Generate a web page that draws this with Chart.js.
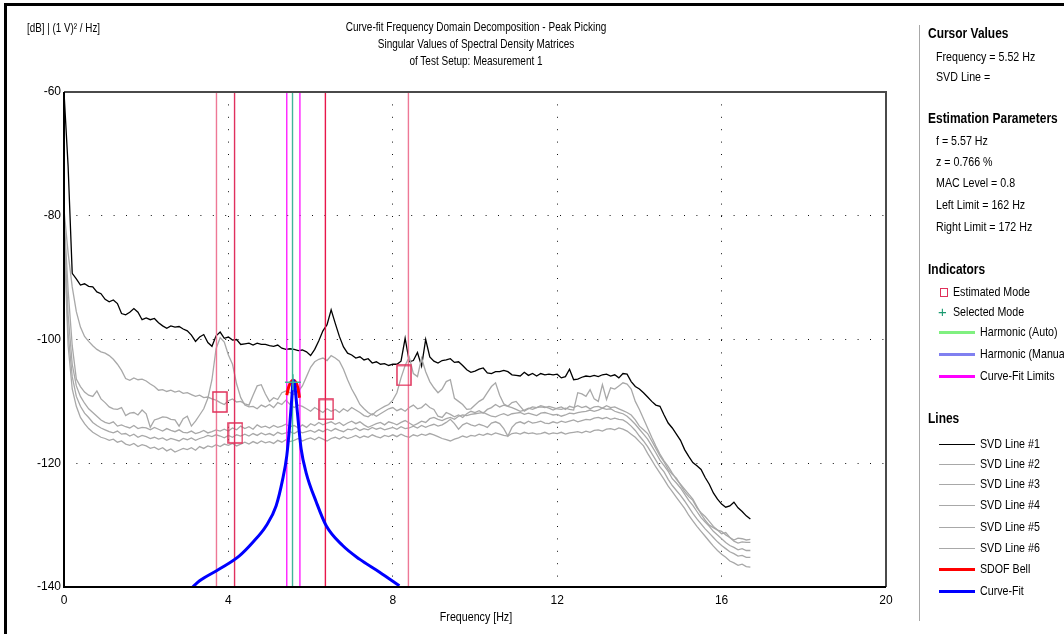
<!DOCTYPE html>
<html>
<head>
<meta charset="utf-8">
<title>Curve-fit Frequency Domain Decomposition</title>
<script src="https://cdn.jsdelivr.net/npm/chart.js@4.4.1/dist/chart.umd.min.js"></script>
<style>
  body { margin: 0; background: #fff; }
  #page {
    position: relative; width: 1064px; height: 634px; overflow: hidden;
    font-family: 'Liberation Sans', Arial, sans-serif; color: #000;
  }
  #chartBox { position: absolute; left: 0; top: 0; width: 915px; height: 634px; }
  #frame { position: absolute; left: 4px; top: 3px; right: -5px; bottom: -5px; border-top: 3px solid #000; border-left: 3px solid #000; pointer-events: none; }
  /* schmale Schrift nachbilden */
  .t, .h { position: absolute; white-space: nowrap; transform: scaleX(0.82); transform-origin: left center; }
  .t { font-size: 13px; line-height: 16px; }
  .h { left: 928px; font-size: 14.6px; line-height: 18px; font-weight: bold; }
  .title { position: absolute; left: 276px; width: 400px; text-align: center; font-size: 12.2px; line-height: 17px; white-space: nowrap; transform: scaleX(0.82); transform-origin: center center; }
  .sep { position: absolute; left: 919px; top: 25px; width: 1px; height: 596px; background: #a8a8a8; }
  .sample { position: absolute; left: 939px; width: 36px; }
  .box { position: absolute; left: 940px; width: 6px; height: 7px; border: 1.5px solid #e0305a; }
  .plus { position: absolute; left: 938px; font-size: 15px; line-height: 16px; color: #1a9a70; }
</style>
</head>
<body>
<div id="page">
  <div id="chartBox"><canvas id="graph" width="915" height="634"></canvas></div>
  <div id="frame"></div>

  <div class="t" style="left:27px; top:20px; font-size:12px;">[dB] | (1 V)² / Hz]</div>
  <div class="title" style="top:19px;">Curve-fit Frequency Domain Decomposition - Peak Picking</div>
  <div class="title" style="top:36px;">Singular Values of Spectral Density Matrices</div>
  <div class="title" style="top:53px;">of Test Setup: Measurement 1</div>
  <div class="title" style="top:608px; font-size:13px;">Frequency [Hz]</div>

  <div class="sep"></div>
  <div class="h" style="top:24px;">Cursor Values</div>
  <div class="t" style="left:936px; top:49px;">Frequency = 5.52 Hz</div>
  <div class="t" style="left:936px; top:69px;">SVD Line =</div>

  <div class="h" style="top:109px;">Estimation Parameters</div>
  <div class="t" style="left:936px; top:133px;">f = 5.57 Hz</div>
  <div class="t" style="left:936px; top:154px;">z = 0.766 %</div>
  <div class="t" style="left:936px; top:175px;">MAC Level = 0.8</div>
  <div class="t" style="left:936px; top:197px;">Left Limit = 162 Hz</div>
  <div class="t" style="left:936px; top:219px;">Right Limit = 172 Hz</div>

  <div class="h" style="top:260px;">Indicators</div>
  <div class="box" style="top:288px;"></div>
  <div class="t" style="left:953px; top:284px;">Estimated Mode</div>
  <div class="plus" style="top:304px;">+</div>
  <div class="t" style="left:953px; top:304px;">Selected Mode</div>
  <div class="sample" style="top:331px; height:3px; background:#80f080;"></div>
  <div class="t" style="left:980px; top:324px;">Harmonic (Auto)</div>
  <div class="sample" style="top:353px; height:3px; background:#8080f0;"></div>
  <div class="t" style="left:980px; top:346px;">Harmonic (Manual)</div>
  <div class="sample" style="top:375px; height:3px; background:#ff00ff;"></div>
  <div class="t" style="left:980px; top:368px;">Curve-Fit Limits</div>

  <div class="h" style="top:409px;">Lines</div>
  <div class="sample" style="top:444px; height:1px; background:#000;"></div>
  <div class="t" style="left:980px; top:436px;">SVD Line #1</div>
  <div class="sample" style="top:464px; height:1px; background:#a8a8a8;"></div>
  <div class="t" style="left:980px; top:456px;">SVD Line #2</div>
  <div class="sample" style="top:484px; height:1px; background:#a8a8a8;"></div>
  <div class="t" style="left:980px; top:476px;">SVD Line #3</div>
  <div class="sample" style="top:505px; height:1px; background:#a8a8a8;"></div>
  <div class="t" style="left:980px; top:497px;">SVD Line #4</div>
  <div class="sample" style="top:527px; height:1px; background:#a8a8a8;"></div>
  <div class="t" style="left:980px; top:519px;">SVD Line #5</div>
  <div class="sample" style="top:548px; height:1px; background:#a8a8a8;"></div>
  <div class="t" style="left:980px; top:540px;">SVD Line #6</div>
  <div class="sample" style="top:568px; height:3px; background:#ff0000;"></div>
  <div class="t" style="left:980px; top:561px;">SDOF Bell</div>
  <div class="sample" style="top:590px; height:3px; background:#0000ff;"></div>
  <div class="t" style="left:980px; top:583px;">Curve-Fit</div>
</div>

<script>
// Frequenzraster der SVD Linien (Hz)
const freq = [
  0.0, 0.1, 0.2, 0.3, 0.4, 0.5, 0.6, 0.7, 0.8, 0.9,
  1.0, 1.1, 1.2, 1.3, 1.4, 1.5, 1.6, 1.7, 1.8, 1.9,
  2.0, 2.1, 2.2, 2.3, 2.4, 2.5, 2.6, 2.7, 2.8, 2.9,
  3.0, 3.1, 3.2, 3.3, 3.4, 3.5, 3.6, 3.7, 3.8, 3.9,
  4.0, 4.1, 4.2, 4.3, 4.4, 4.5, 4.6, 4.7, 4.8, 4.9,
  5.0, 5.1, 5.2, 5.3, 5.4, 5.5, 5.6, 5.7, 5.8, 5.9,
  6.0, 6.1, 6.2, 6.3, 6.4, 6.5, 6.6, 6.7, 6.8, 6.9,
  7.0, 7.1, 7.2, 7.3, 7.4, 7.5, 7.6, 7.7, 7.8, 7.9,
  8.0, 8.1, 8.2, 8.3, 8.4, 8.5, 8.6, 8.7, 8.8, 8.9,
  9.0, 9.1, 9.2, 9.3, 9.4, 9.5, 9.6, 9.7, 9.8, 9.9,
  10.0, 10.1, 10.2, 10.3, 10.4, 10.5, 10.6, 10.7, 10.8, 10.9,
  11.0, 11.1, 11.2, 11.3, 11.4, 11.5, 11.6, 11.7, 11.8, 11.9,
  12.0, 12.1, 12.2, 12.3, 12.4, 12.5, 12.6, 12.7, 12.8, 12.9,
  13.0, 13.1, 13.2, 13.3, 13.4, 13.5, 13.6, 13.7, 13.8, 13.9,
  14.0, 14.1, 14.2, 14.3, 14.4, 14.5, 14.6, 14.7, 14.8, 14.9,
  15.0, 15.1, 15.2, 15.3, 15.4, 15.5, 15.6, 15.7, 15.8, 15.9,
  16.0, 16.1, 16.2, 16.3, 16.4, 16.5, 16.6, 16.7,
];

// Singulärwerte in dB
const svd1 = [
  -60, -72, -89.3, -90.2, -91.2, -91.0, -91.4, -91.5, -92.3, -92.6,
  -93.5, -93.9, -93.6, -94.2, -95.8, -96.0, -95.6, -95.0, -95.6, -96.8,
  -96.5, -96.8, -96.6, -97.3, -97.8, -98.2, -97.8, -98.0, -97.9, -98.3,
  -98.6, -99.3, -100.3, -99.6, -99.2, -100.5, -101.1, -99.4, -98.8, -99.8,
  -99.6, -100.1, -100.0, -100.8, -100.7, -100.6, -100.9, -100.6, -100.8, -100.8,
  -101.0, -101.1, -100.9, -101.4, -101.6, -101.5, -101.6, -101.8, -101.7, -102.0,
  -102.6, -101.6, -100.2, -98.6, -97.6, -95.2, -97.4, -99.5, -101.2, -102.2,
  -102.5, -103.0, -102.8, -103.3, -103.1, -103.8, -103.6, -104.0, -103.9, -104.2,
  -104.0, -104.0, -103.5, -99.8, -103.6, -103.4, -102.1, -104.3, -100.0, -102.8,
  -103.5, -103.8, -103.4, -103.3, -103.1, -103.7, -103.6, -104.2, -104.9, -105.3,
  -105.1, -104.8, -104.6, -105.4, -105.5, -105.2, -105.2, -105.0, -105.2, -105.7,
  -105.8, -105.9, -105.3, -105.8, -105.5, -105.9, -105.5, -105.7, -105.6, -105.7,
  -105.6, -106.2, -106.0, -104.8, -106.5, -106.4, -106.1, -105.9, -106.0, -105.8,
  -106.0, -105.7, -105.6, -105.9, -105.7, -106.2, -105.5, -105.6, -106.8, -107.6,
  -108.0, -108.6, -109.3, -110.0, -110.6, -110.8, -112.2, -113.5, -114.3, -115.3,
  -116.3, -117.8, -118.9, -119.9, -120.4, -121.0, -122.3, -123.4, -124.8, -125.8,
  -126.6, -127.1, -126.9, -126.3, -127.2, -127.8, -128.5, -129.0,
];
const svd2 = [
  -79, -86, -91.5, -95.5, -98.0, -99.5, -100.3, -101.0, -101.6, -102.0,
  -102.2, -102.6, -103.2, -104.0, -105.0, -106.3, -106.6, -106.2, -106.5, -106.4,
  -106.7, -107.2, -107.6, -108.2, -108.1, -108.4, -108.2, -108.5, -108.3, -108.7,
  -108.6, -108.9, -109.2, -109.0, -109.4, -109.3, -109.6, -109.8, -110.2, -110.5,
  -109.9, -109.6, -110.1, -110.0, -110.4, -110.6, -109.0, -107.5, -107.3, -108.8,
  -110.0, -109.4, -109.7, -108.6, -108.3, -108.6, -108.9, -108.4, -107.5, -106.0,
  -104.5, -103.6, -103.2, -103.0, -103.4, -102.6, -103.0, -103.5, -104.8, -106.5,
  -108.0, -109.2, -110.5, -111.2, -111.8, -112.2, -111.6, -111.2, -110.8, -110.5,
  -109.8, -108.6, -106.2, -104.2, -102.8, -105.5, -106.0, -103.0, -105.2, -106.8,
  -107.8, -108.6, -108.0, -106.8, -106.5, -109.5, -110.0, -110.5, -111.3, -111.2,
  -110.6, -110.0, -109.6, -108.6, -107.6, -107.0, -109.0, -110.4, -110.8, -111.0,
  -111.3, -111.6, -111.4, -111.1, -111.3, -111.0, -110.9, -111.0, -110.8, -111.0,
  -111.2, -111.3, -111.1, -111.3, -111.4, -108.6, -108.8, -109.2, -108.1, -109.6,
  -110.0, -107.3, -109.7, -107.8, -108.0, -107.5, -107.0, -107.2, -108.0, -110.0,
  -111.3, -112.8, -114.3, -115.8, -117.2, -118.5, -119.6, -120.5, -121.6, -122.6,
  -123.4, -124.2, -125.0, -125.8, -127.0, -128.2, -129.2, -130.0, -130.4, -130.8,
  -131.0, -131.6, -132.0, -132.4, -132.1, -132.2, -132.4, -132.3,
];
const svd3 = [
  -80, -92, -101.0, -106.4, -107.6, -108.5, -109.0, -109.2, -108.3, -109.6,
  -110.2, -110.9, -111.2, -111.3, -111.0, -112.3, -111.9, -111.8, -112.2, -111.4,
  -112.0, -114.2, -113.0, -112.8, -112.5, -112.6, -112.9, -113.0, -114.0, -112.8,
  -112.4, -114.0, -113.2, -112.2, -111.2, -109.5, -106.5, -101.5, -99.7, -100.4,
  -102.5, -104.0, -107.2, -109.4, -110.6, -110.9, -110.8, -111.2, -110.6, -110.9,
  -110.5, -111.0, -110.2, -110.5, -109.8, -110.5, -111.0, -110.6, -110.8, -111.2,
  -111.6, -111.0, -111.4, -111.8, -111.2, -111.6, -111.3, -111.8, -111.2, -111.6,
  -111.0, -111.4, -111.8, -112.3, -112.5, -112.0, -112.4, -112.0, -111.6, -111.2,
  -111.0, -111.5, -111.2, -111.6, -111.0, -110.6, -111.2, -111.0, -110.4, -111.0,
  -111.3, -112.4, -112.6, -111.8, -112.1, -112.5, -112.2, -112.6, -112.0, -111.6,
  -111.8, -111.5, -111.9, -111.3, -111.0, -110.5, -110.9, -110.6, -110.8, -110.2,
  -110.0, -110.8, -111.6, -111.2, -110.9, -111.0, -110.7, -110.9, -111.1, -111.4,
  -111.1, -110.9, -111.3, -110.8, -111.0, -110.7, -111.0, -110.8, -111.2, -110.9,
  -110.8, -111.1, -110.7, -111.0, -110.9, -111.2, -111.5, -111.8, -112.2, -113.0,
  -114.0, -114.6, -115.2, -116.4, -117.6, -118.8, -119.8, -121.0, -121.8, -122.4,
  -123.5, -124.6, -125.4, -126.0, -127.2, -128.0, -128.6, -129.4, -130.2, -130.8,
  -131.4, -131.2, -132.0, -132.6, -132.9, -132.7, -132.8, -132.8,
];
const svd4 = [
  -81, -96, -104.0, -107.5, -109.2, -110.3, -111.2, -111.8, -112.4, -113.0,
  -113.4, -113.6, -113.3, -114.0, -113.8, -114.1, -114.3, -113.9, -114.4, -114.2,
  -114.3, -114.6, -114.2, -114.5, -114.8, -114.4, -114.7, -114.9, -114.6, -115.0,
  -115.1, -114.8, -115.2, -115.0, -114.7, -115.1, -114.9, -114.6, -114.8, -114.5,
  -114.8, -114.3, -114.6, -114.0, -114.4, -114.1, -114.5, -113.8, -114.2, -114.0,
  -114.3, -113.9, -114.2, -114.0, -113.7, -114.1, -113.9, -114.3, -113.8, -114.2,
  -113.6, -113.9, -113.4, -113.8, -113.5, -113.3, -113.7, -113.4, -113.9, -113.5,
  -113.2, -113.6, -113.3, -113.8, -114.2, -113.9, -113.6, -113.4, -113.8, -113.3,
  -113.5, -113.8, -113.4, -113.1, -113.5, -113.9, -113.6, -113.2, -113.4, -112.8,
  -112.6, -112.9, -113.1, -112.8, -112.6, -112.9, -112.4, -112.2, -112.3, -112.1,
  -112.0, -111.9, -111.8, -112.1, -112.4, -112.5, -112.2, -112.0, -112.3, -112.0,
  -111.9, -111.8, -112.1, -111.9, -112.1, -112.3, -111.9, -111.8, -112.0, -112.2,
  -112.1, -112.4, -112.2, -111.9, -112.0, -111.8, -111.7, -111.6, -111.4, -111.6,
  -111.4, -111.1, -111.3, -111.2, -111.6, -111.8, -112.0, -112.4, -113.0, -113.7,
  -114.5, -115.3, -116.1, -117.2, -118.3, -119.5, -120.4, -121.3, -122.5, -123.2,
  -124.0, -125.0, -126.0, -126.8, -127.8, -128.8, -129.5, -130.2, -131.0, -131.6,
  -132.2, -132.8, -133.3, -133.6, -134.0, -133.8, -134.1, -134.1,
];
const svd5 = [
  -82, -99, -106.0, -109.2, -110.8, -111.9, -112.6, -113.4, -113.9, -114.3,
  -114.6, -114.9, -115.1, -114.8, -115.3, -115.2, -115.6, -115.3, -115.8, -115.5,
  -115.7, -116.0, -115.8, -116.1, -115.9, -116.3, -116.0, -116.2, -116.4, -116.0,
  -116.2, -115.9, -116.3, -116.0, -115.8, -115.5, -115.7, -115.4, -115.6, -115.9,
  -115.5, -115.8, -115.4, -115.6, -115.3, -115.6, -115.2, -115.5, -115.1, -115.4,
  -115.2, -115.5, -115.0, -115.3, -115.1, -114.9, -115.2, -114.8, -115.1, -114.9,
  -114.7, -115.0, -114.6, -114.9, -114.5, -114.8, -114.4, -114.7, -114.9, -114.5,
  -114.6, -114.3, -114.7, -114.4, -114.6, -114.2, -114.5, -114.3, -114.6, -114.4,
  -114.2, -114.5, -114.1, -114.4, -114.3, -114.0, -114.3, -113.9, -114.2, -113.9,
  -113.7, -114.0, -113.8, -113.4, -112.9, -113.6, -114.5, -113.8, -113.5, -113.8,
  -114.0, -113.7, -113.9, -114.2, -113.5, -113.3, -113.6, -114.4, -115.6, -114.2,
  -113.5, -113.3, -113.6, -113.2, -113.5, -113.4, -113.2, -113.5, -113.6, -113.3,
  -113.5, -113.2, -113.4, -113.2, -113.0, -113.3, -113.1, -112.9, -113.0, -112.7,
  -112.6, -112.8, -112.6, -112.9, -112.7, -112.9, -113.0, -113.4, -114.0, -114.7,
  -115.6, -116.4, -117.3, -118.4, -119.5, -120.6, -121.4, -122.6, -123.6, -124.4,
  -125.2, -126.1, -127.1, -128.1, -129.0, -129.8, -130.6, -131.3, -132.0, -132.7,
  -133.3, -133.8, -134.3, -134.6, -135.0, -134.9, -135.2, -135.2,
];
const svd6 = [
  -83, -101, -108.0, -110.8, -112.6, -113.6, -114.4, -115.0, -115.4, -115.8,
  -116.0, -116.3, -116.1, -116.6, -116.4, -116.9, -117.1, -116.8, -117.3, -117.0,
  -117.2, -117.6, -117.4, -117.8, -117.5, -118.0, -117.7, -118.2, -117.9, -117.6,
  -117.8, -117.5, -117.9, -117.3, -117.6, -117.2, -117.4, -117.0, -117.3, -116.9,
  -117.1, -116.8, -117.2, -116.9, -116.6, -116.9, -116.5, -116.8, -116.4, -116.7,
  -116.5, -116.8, -116.3, -116.6, -116.2, -116.5, -116.3, -116.0, -116.4, -116.1,
  -115.9, -116.2, -115.8, -116.1, -116.4, -116.0, -115.8, -116.1, -115.7, -116.0,
  -115.8, -115.5, -115.9, -115.6, -115.8, -115.4, -115.7, -115.9, -115.5, -115.7,
  -115.4, -115.7, -115.3, -115.6, -115.8, -115.4, -115.6, -115.3, -115.5, -115.2,
  -115.4, -115.7, -116.0, -116.2, -116.4, -116.1, -115.9, -115.6, -115.8, -115.5,
  -115.6, -115.3, -115.5, -115.2, -115.4, -115.1, -115.3, -115.5, -115.6, -115.2,
  -115.1, -115.3, -115.0, -115.2, -115.1, -115.3, -115.2, -115.0, -115.3, -115.1,
  -115.2, -115.0, -115.3, -115.1, -115.0, -114.9, -115.1, -114.8, -115.0, -114.7,
  -114.6, -114.8, -114.5, -114.4, -114.6, -114.3, -114.5, -114.8, -115.3, -115.8,
  -116.5, -117.2, -118.4, -119.5, -120.6, -121.6, -122.6, -123.7, -124.6, -125.5,
  -126.4, -127.3, -128.4, -129.3, -130.2, -131.0, -131.8, -132.6, -133.4, -134.1,
  -134.7, -135.2, -135.8, -136.1, -136.5, -136.3, -136.7, -136.8,
];

// Curve-Fit (SDOF) und Glocke
const fitFreq = [3.10, 3.30, 3.78, 4.26, 4.59, 4.92, 5.16, 5.32, 5.42, 5.49, 5.54, 5.58, 5.62, 5.65, 5.71, 5.77, 5.89, 6.14, 6.38, 6.78, 7.19, 7.68, 8.16];
const fitDb = [-140.2, -139.0, -137.1, -135.0, -132.8, -130.1, -126.9, -122.6, -118.8, -114.0, -109.7, -106.6, -107.6, -109.7, -114.0, -117.7, -121.5, -126.3, -130.1, -133.3, -135.5, -137.6, -139.8];
const bellFreq = [5.42, 5.47, 5.52, 5.58, 5.64, 5.69, 5.73];
const bellDb = [-109.0, -107.6, -106.9, -106.6, -106.9, -107.8, -109.4];

// Indikatoren
const modeFreq = [3.79, 4.17, 6.38, 8.27];
const modeDb = [-110.1, -115.1, -111.3, -105.8];
const selectedFreq = [5.57];
const selectedDb = [-106.9];
const peakLineFreq = [3.71, 4.15, 6.36, 8.38];
const peakLineColor = ['#ee7896', '#e0305e', '#e8164a', '#ee7896'];
const fitLimitFreq = [5.42, 5.74];
const harmonicFreq = [5.56];

const yMin = -140;
const yMax = -60;
const xMin = 0;
const xMax = 20;

const svdColors = ['#000000', '#a8a8a8', '#a8a8a8', '#a8a8a8', '#a8a8a8', '#a8a8a8'];
const svdLines = [svd1, svd2, svd3, svd4, svd5, svd6];

const pts = (xs, ys) => xs.map((x, i) => ({ x: x, y: ys[i] }));
const vline = (x) => [{ x: x, y: yMax }, { x: x, y: yMin }];

// Rechteck-Symbol für "Estimated Mode"
const boxImg = document.createElement('canvas');
boxImg.width = 16;
boxImg.height = 22;
const bctx = boxImg.getContext('2d');
bctx.strokeStyle = '#e0305a';
bctx.lineWidth = 1.5;
bctx.strokeRect(1, 1, 14, 20);

const datasets = [];

svdLines.forEach((line, i) => {
  datasets.push({
    label: 'SVD Line #' + (i + 1),
    data: pts(freq, line),
    borderColor: svdColors[i],
    borderWidth: 1.3,
    pointRadius: 0,
    tension: 0,
    order: 10 - i,
  });
});

peakLineFreq.forEach((f, i) => {
  datasets.push({
    label: 'peak ' + i,
    data: vline(f),
    borderColor: peakLineColor[i],
    borderWidth: 1.4,
    pointRadius: 0,
    order: 4,
  });
});

fitLimitFreq.forEach((f, i) => {
  datasets.push({
    label: 'limit ' + i,
    data: vline(f),
    borderColor: '#ff20ff',
    borderWidth: 1.4,
    pointRadius: 0,
    order: 4,
  });
});

datasets.push({
  label: 'Harmonic (Auto)',
  data: vline(harmonicFreq[0]),
  borderColor: '#40b898',
  borderWidth: 1.4,
  pointRadius: 0,
  order: 3,
});

datasets.push({
  label: 'SDOF Bell',
  data: pts(bellFreq, bellDb),
  borderColor: '#ff0000',
  borderWidth: 3,
  pointRadius: 0,
  cubicInterpolationMode: 'monotone',
  order: 2,
});

datasets.push({
  label: 'Curve-Fit',
  data: pts(fitFreq, fitDb),
  borderColor: '#0000ff',
  borderWidth: 3,
  pointRadius: 0,
  cubicInterpolationMode: 'monotone',
  order: 1,
});

datasets.push({
  label: 'Selected Mode',
  data: pts(selectedFreq, selectedDb),
  showLine: false,
  pointStyle: 'cross',
  pointRadius: 8,
  pointBorderColor: '#40b898',
  pointBorderWidth: 1.5,
  order: 0,
});

datasets.push({
  label: 'Estimated Mode',
  data: pts(modeFreq, modeDb),
  showLine: false,
  pointStyle: boxImg,
  pointRadius: 8,
  order: 0,
});

// Rahmen um die Zeichenfläche
const framePlugin = {
  id: 'frame',
  afterDatasetsDraw(chart) {
    const { ctx, chartArea: a } = chart;
    ctx.save();
    ctx.lineWidth = 2;
    ctx.strokeStyle = '#4a4a4a';
    ctx.beginPath();
    ctx.moveTo(a.left, a.top);
    ctx.lineTo(a.right, a.top);
    ctx.lineTo(a.right, a.bottom);
    ctx.stroke();
    ctx.strokeStyle = '#000';
    ctx.beginPath();
    ctx.moveTo(a.right, a.bottom);
    ctx.lineTo(a.left, a.bottom);
    ctx.lineTo(a.left, a.top);
    ctx.stroke();
    ctx.restore();
  },
};

const tickFont = { family: "'Liberation Sans', Arial, sans-serif", size: 12 };

const ctx = document.getElementById('graph').getContext('2d');

const chart = new Chart(ctx, {
  type: 'line',
  data: { datasets: datasets },
  plugins: [framePlugin],
  options: {
    responsive: false,
    animation: false,
    layout: { padding: { left: 0, top: 92, right: 29, bottom: 0 } },
    plugins: {
      legend: { display: false },
      tooltip: { enabled: false },
    },
    scales: {
      x: {
        type: 'linear',
        min: xMin,
        max: xMax,
        ticks: {
          stepSize: 4,
          color: '#000',
          padding: 6,
          maxRotation: 0,
          font: tickFont,
        },
        grid: {
          drawTicks: false,
          lineWidth: 1,
          color: (c) => (c.tick && (c.tick.value === xMin || c.tick.value === xMax) ? 'rgba(0,0,0,0)' : '#111'),
        },
        border: { display: false, dash: [1, 11.4] },
        afterFit: (scale) => {
          scale.height = 47;
        },
      },
      y: {
        type: 'linear',
        min: yMin,
        max: yMax,
        ticks: {
          stepSize: 20,
          color: '#000',
          padding: 3,
          font: tickFont,
        },
        grid: {
          drawTicks: false,
          lineWidth: 1,
          color: (c) => (c.tick && (c.tick.value === yMin || c.tick.value === yMax) ? 'rgba(0,0,0,0)' : '#111'),
        },
        border: { display: false, dash: [1, 11.4] },
        afterFit: (scale) => {
          scale.width = 64;
        },
      },
    },
  },
});
</script>
</body>
</html>
